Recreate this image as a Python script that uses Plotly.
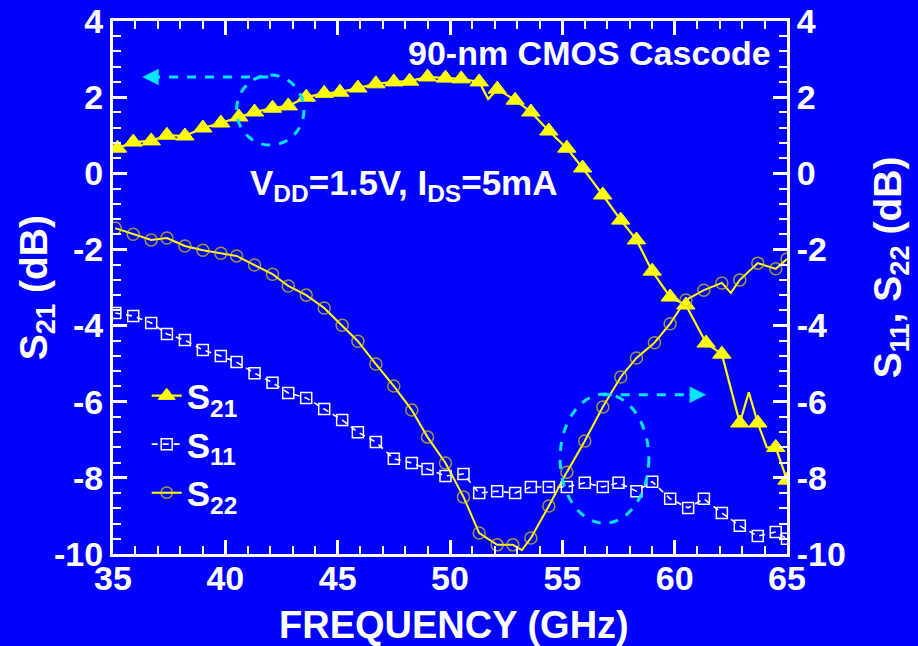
import plotly.graph_objects as go

# ---------------- data ----------------
s21_freq = [35.2, 35.9, 36.7, 37.4, 38.2, 39.0, 39.8, 40.6, 41.3, 42.1, 42.8, 43.6, 44.4, 45.1,
            45.9, 46.7, 47.5, 48.2, 49.0, 49.8, 50.5, 51.3, 51.7, 52.1, 52.9, 53.6, 54.4, 55.2,
            55.9, 56.8, 57.6, 58.3, 59.0, 59.8, 60.5, 61.4, 62.1, 62.9, 63.3, 63.7, 64.1, 64.5, 65.0]
s21_db = [0.66, 0.82, 0.85, 1.00, 0.98, 1.19, 1.32, 1.48, 1.61, 1.71, 1.77, 2.00, 2.10, 2.13,
          2.24, 2.35, 2.40, 2.42, 2.53, 2.50, 2.48, 2.40, 1.95, 2.21, 1.92, 1.61, 1.11, 0.66,
          0.14, -0.57, -1.23, -1.75, -2.57, -3.25, -3.46, -4.46, -4.75, -6.56, -5.75, -6.56,
          -7.20, -7.20, -8.06]
s21_marked = [1] * 22 + [0] + [1] * 15 + [0, 1, 0, 1, 1]

s11_freq = [35.1, 35.9, 36.7, 37.4, 38.2, 39.0, 39.8, 40.5, 41.3, 42.1, 42.8, 43.6, 44.4, 45.2,
            45.9, 46.7, 47.5, 48.3, 49.0, 49.8, 50.6, 51.3, 52.1, 52.9, 53.6, 54.4, 55.2, 56.0,
            56.8, 57.5, 58.3, 59.0, 59.8, 60.6, 61.3, 62.1, 62.9, 63.7, 64.5, 65.0]
s11_db = [-3.67, -3.75, -3.93, -4.22, -4.38, -4.64, -4.80, -4.96, -5.25, -5.50, -5.77, -5.90,
          -6.19, -6.48, -6.80, -7.06, -7.50, -7.61, -7.77, -7.95, -7.90, -8.40, -8.35, -8.40,
          -8.24, -8.24, -8.24, -8.13, -8.24, -8.13, -8.35, -8.10, -8.55, -8.79, -8.55, -8.92,
          -9.26, -9.53, -9.42, -9.60]

s22_freq = [35.1, 35.9, 36.7, 37.4, 38.2, 39.0, 39.8, 40.5, 41.3, 42.1, 42.8, 43.6, 44.4, 45.2,
            45.9, 46.7, 47.5, 48.3, 49.0, 49.8, 50.6, 51.3, 52.1, 52.8, 53.2, 53.6, 54.4, 55.2,
            56.0, 56.8, 57.6, 58.3, 59.1, 59.8, 60.5, 61.3, 62.1, 62.5, 62.9, 63.7, 64.5, 65.0]
s22_db = [-1.44, -1.60, -1.75, -1.70, -1.91, -2.02, -2.10, -2.17, -2.41, -2.65, -2.96, -3.20,
          -3.54, -3.99, -4.41, -5.01, -5.59, -6.22, -6.93, -7.61, -8.50, -9.45, -9.76, -9.76,
          -9.90, -9.58, -8.74, -7.85, -7.03, -6.14, -5.35, -4.85, -4.45, -3.95, -3.33, -3.07,
          -2.88, -3.14, -2.80, -2.36, -2.51, -2.25]
s22_marked = [1] * 24 + [0] + [1] * 12 + [0] + [1] * 4

x_ticks = [35, 40, 45, 50, 55, 60, 65]
y_ticks = [-10, -8, -6, -4, -2, 0, 2, 4]

# ---------------- style ----------------
BG = "#0000ff"
WHITE = "#ffffff"
YEL = "#ffff00"
CIRC = "#e2d000"
CYAN = "#00e5ff"
FONT = "Liberation Sans, Arial"

fig = go.Figure()

fig.add_trace(go.Scatter(
    x=s21_freq, y=s21_db, name="S<sub>21</sub>", mode="lines+markers",
    line=dict(color=YEL, width=2.2),
    marker=dict(symbol="triangle-up", size=[16 if m else 0 for m in s21_marked], color=YEL,
                opacity=1, line=dict(width=1, color=YEL)),
    yaxis="y"))

fig.add_trace(go.Scatter(
    x=s11_freq, y=s11_db, name="S<sub>11</sub>", mode="lines+markers",
    line=dict(color=WHITE, width=1.6, dash="6px,5px"),
    marker=dict(symbol="square-open", size=11, color=WHITE, line=dict(width=1.5, color=WHITE)),
    yaxis="y2"))

fig.add_trace(go.Scatter(
    x=s22_freq, y=s22_db, name="S<sub>22</sub>", mode="lines+markers",
    line=dict(color=YEL, width=2),
    marker=dict(symbol="circle-open", size=[12 if m else 0 for m in s22_marked], color=CIRC,
                line=dict(width=1.5, color=CIRC)),
    yaxis="y2"))

axis_common = dict(
    showline=True, linecolor=WHITE, linewidth=3, mirror=False, automargin=False,
    ticks="inside", tickcolor=WHITE, tickwidth=2.5, ticklen=14,
    showgrid=False, zeroline=False,
    tickfont=dict(family=FONT, size=34, color=WHITE, weight="bold"),
)
minor_x = dict(dtick=1, ticks="inside", ticklen=8, tickwidth=2, tickcolor=WHITE)
minor_y = dict(dtick=0.4, ticks="inside", ticklen=8, tickwidth=2, tickcolor=WHITE)

fig.update_layout(
    width=918, height=646,
    margin=dict(l=113, r=131, t=21, b=92, autoexpand=False),
    paper_bgcolor=BG, plot_bgcolor=BG,
    font=dict(family=FONT, color=WHITE, weight="bold"),
    showlegend=True,
    legend=dict(x=0.05, y=0.352, xanchor="left", yanchor="top", bgcolor="rgba(0,0,0,0)",
                font=dict(family=FONT, size=35, color=WHITE, weight="bold"),
                tracegroupgap=0),
    xaxis=dict(range=[35, 65], tickvals=x_ticks, ticktext=[str(v) for v in x_ticks],
               minor=minor_x, ticklabelstandoff=-8, **axis_common),
    xaxis2=dict(range=[35, 65], overlaying="x", side="top", tickvals=x_ticks,
                showticklabels=False, minor=minor_x, **axis_common),
    yaxis=dict(range=[-10, 4], tickvals=y_ticks, ticktext=[str(v) for v in y_ticks],
               minor=minor_y, ticklabelstandoff=0, **axis_common),
    yaxis2=dict(range=[-10, 4], overlaying="y", side="right", tickvals=y_ticks,
                ticktext=[str(v) for v in y_ticks], minor=minor_y, ticklabelstandoff=0,
                **axis_common),
)

# empty trace so the top axis is drawn
fig.add_trace(go.Scatter(x=[35, 65], y=[None, None], xaxis="x2", showlegend=False,
                         hoverinfo="skip"))

TITLE_FONT = dict(family=FONT, size=39, color=WHITE, weight="bold")
fig.add_annotation(x=-0.114, y=0.499, xref="paper", yref="paper", textangle=-90,
                   xanchor="center", yanchor="middle",
                   text="S<sub>21</sub> (dB)", showarrow=False, font=TITLE_FONT)
fig.add_annotation(x=1.153, y=0.538, xref="paper", yref="paper", textangle=-90,
                   xanchor="center", yanchor="middle",
                   text="S<sub>11</sub>, S<sub>22</sub> (dB)", showarrow=False, font=TITLE_FONT)
fig.add_annotation(x=0.506, y=-0.133, xref="paper", yref="paper", xanchor="center",
                   yanchor="middle", text="FREQUENCY (GHz)", showarrow=False,
                   font=dict(family=FONT, size=38, color=WHITE, weight="bold"))

fig.add_annotation(x=0.979, y=0.94, xref="paper", yref="paper", xanchor="right", yanchor="middle",
                   text="90-nm CMOS Cascode", showarrow=False,
                   font=dict(family=FONT, size=34, color=WHITE, weight="bold"))
fig.add_annotation(x=0.2, y=0.692, xref="paper", yref="paper", xanchor="left", yanchor="middle",
                   text="V<sub>DD</sub>=1.5V, I<sub>DS</sub>=5mA", showarrow=False,
                   font=dict(family=FONT, size=35, color=WHITE, weight="bold"))

# cyan ellipses
fig.add_shape(type="circle", xref="x", yref="y", x0=40.5, x1=43.5, y0=0.74, y1=2.58,
              line=dict(color=CYAN, width=3, dash="dash"))
fig.add_shape(type="circle", xref="x", yref="y", x0=54.9, x1=58.85, y0=-9.19, y1=-5.8,
              line=dict(color=CYAN, width=3, dash="dash"))
# dashed arrows
fig.add_shape(type="line", xref="x", yref="y", x0=41.9, x1=36.9, y0=2.53, y1=2.53,
              line=dict(color=CYAN, width=3, dash="dash"))
fig.add_annotation(x=36.3, y=2.53, xref="x", yref="y", ax=18, ay=0, showarrow=True,
                   arrowhead=2, arrowsize=1.1, arrowwidth=3, arrowcolor=CYAN, text="")
fig.add_shape(type="line", xref="x", yref="y", x0=56.8, x1=60.8, y0=-5.82, y1=-5.82,
              line=dict(color=CYAN, width=3, dash="dash"))
fig.add_annotation(x=61.4, y=-5.82, xref="x", yref="y", ax=-18, ay=0, showarrow=True,
                   arrowhead=2, arrowsize=1.1, arrowwidth=3, arrowcolor=CYAN, text="")

fig.write_html("out.html", config={"displayModeBar": False},
               post_script="document.body.style.margin='0';"
                           "document.body.style.background='#0000ff';")
